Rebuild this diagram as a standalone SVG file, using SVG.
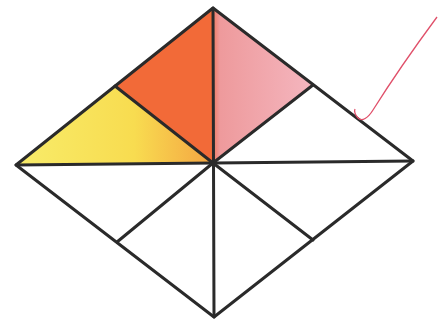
<svg xmlns="http://www.w3.org/2000/svg" width="439" height="322" viewBox="0 0 439 322">
<defs>
<linearGradient id="yel" x1="0" y1="0" x2="1" y2="0">
<stop offset="0" stop-color="#f8ec6a"/>
<stop offset="0.6" stop-color="#f8dc50"/>
<stop offset="1" stop-color="#f4a442"/>
</linearGradient>
<linearGradient id="pnk" x1="0" y1="0" x2="1" y2="0">
<stop offset="0" stop-color="#ef7a62"/>
<stop offset="0.07" stop-color="#ee9a9c"/>
<stop offset="1" stop-color="#f4b6bf"/>
</linearGradient>
<style>
.ln{stroke:#2a2a2a;stroke-width:3;fill:none;stroke-linecap:round;stroke-linejoin:round}
</style>
</defs>
<rect width="439" height="322" fill="#ffffff"/>
<g id="fills">
<polygon points="213,8 115,86 213,163" fill="#f26a38"/>
<polygon points="115,86 16,165 213,163" fill="url(#yel)"/>
<polygon points="213,8 313,85 213,163" fill="url(#pnk)"/>
</g>
<g id="lines">
<polygon class="ln" points="213,8 413,161 214,317 16,165"/>
<line class="ln" x1="16" y1="165" x2="413" y2="161"/>
<line class="ln" x1="213" y1="8" x2="214" y2="317"/>
<line class="ln" x1="115" y1="86" x2="213" y2="163"/>
<line class="ln" x1="313" y1="85" x2="213" y2="163"/>
<line class="ln" x1="117" y1="242" x2="213" y2="163"/>
<line class="ln" x1="313" y1="240" x2="213" y2="163"/>
</g>
<path d="M437,17 C420,40 395,75 373,110 C368,118 362,122 358,118 C355,115 354,111 355,109" fill="none" stroke="#e0506a" stroke-width="1.3"/>
</svg>
